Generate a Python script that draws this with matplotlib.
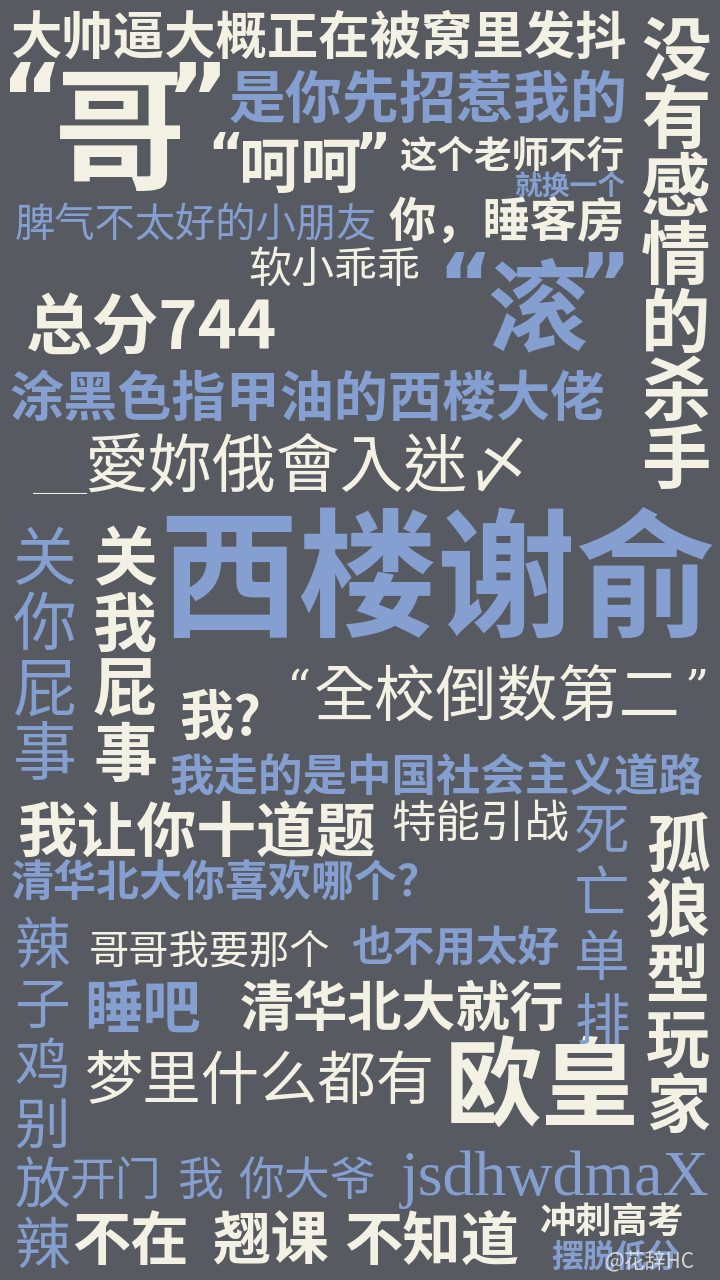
import matplotlib
matplotlib.use("Agg")
import matplotlib.pyplot as plt

plt.rcParams['font.family'] = ['Noto Sans CJK SC', 'DejaVu Sans']

BG = '#575a60'
CREAM = '#f3f1e3'
BLUE = '#849fd0'

# ---- data: phrases ----
horiz_texts = [
    "大帅逼大概正在被窝里发抖",
    "哥",
    "是你先招惹我的",
    "呵呵",
    "这个老师不行",
    "就换一个",
    "脾气不太好的小朋友",
    "你，睡客房",
    "软小乖乖",
    "滚",
    "总分744",
    "涂黑色指甲油的西楼大佬",
    "西楼谢俞",
    "我?",
    "我走的是中国社会主义道路",
    "我让你十道题",
    "特能引战",
    "清华北大你喜欢哪个？",
    "哥哥我要那个",
    "也不用太好",
    "睡吧",
    "清华北大就行",
    "梦里什么都有",
    "欧皇",
    "开门",
    "我",
    "你大爷",
    "冲刺高考",
    "摆脱低分",
    "不在",
    "翘课",
    "不知道",
]
horiz_x = [318, 120, 428, 300, 512, 570, 196, 507, 334, 537, 152, 307, 437, 220, 437, 196,
           480, 226, 210, 455, 142, 402, 260, 542, 115, 200, 307, 612, 615, 130, 270, 432]
horiz_y = [38, 140, 102, 170, 156, 187, 225, 224, 271, 314, 330, 400, 586, 719, 778, 835,
           824, 884, 952, 950, 1012, 1010, 1082, 1090, 1182, 1182, 1182, 1222, 1258, 1243, 1243, 1243]
horiz_size = [37, 95, 41, 44, 27, 20, 29, 34, 31, 72, 48, 39, 100, 39, 32, 43,
              32, 31, 29, 30, 42, 39, 42, 70, 33, 33, 33, 26, 23, 42, 42, 42]
horiz_color = ['c', 'c', 'b', 'c', 'c', 'b', 'b', 'c', 'c', 'b', 'c', 'b', 'b', 'c', 'b', 'c',
               'c', 'b', 'c', 'b', 'b', 'c', 'c', 'c', 'b', 'b', 'b', 'c', 'b', 'c', 'c', 'c']
horiz_weight = ['black', 'black', 'black', 'black', 'bold', 'bold', 'normal', 'black', 'normal', 'black',
                'black', 'black', 'black', 'black', 'black', 'black', 'normal', 'black', 'normal', 'black',
                'black', 'black', 'normal', 'black', 'normal', 'normal', 'normal', 'bold', 'black',
                'black', 'black', 'black']

# vertical phrases
vert_texts = ["没有感情的杀手", "关你屁事", "关我屁事", "死亡单排", "孤狼型玩家", "辣子鸡别放辣"]
vert_x = [676, 45, 125, 602, 678, 42]
vert_y0 = [55, 562, 562, 832, 848, 948]
vert_step = [68, 65, 65, 64, 65, 60]
vert_size = [50, 46, 46, 40, 46, 40]
vert_color = ['c', 'b', 'c', 'b', 'c', 'b']
vert_weight = ['bold', 'normal', 'bold', 'normal', 'black', 'normal']

# light style texts
light_texts = ["愛妳俄會入迷〆", "全校倒数第二"]
light_x = [308, 497]
light_y = [468, 700]
light_size = [46, 44]

latin_text = "jsdhwdmaX"

cmap = {'c': CREAM, 'b': BLUE}

fig = plt.figure(figsize=(7.2, 12.8), dpi=100)
fig.patch.set_facecolor(BG)
ax = fig.add_axes([0, 0, 1, 1])
ax.set_facecolor(BG)
ax.set_xlim(0, 720)
ax.set_ylim(1280, 0)
ax.axis('off')

for t, x, y, s, c, w in zip(horiz_texts, horiz_x, horiz_y, horiz_size, horiz_color, horiz_weight):
    ax.text(x, y, t, fontsize=s, color=cmap[c], fontweight=w, ha='center', va='center')

for t, x, y0, st, s, c, w in zip(vert_texts, vert_x, vert_y0, vert_step, vert_size, vert_color, vert_weight):
    for i, ch in enumerate(t):
        ax.text(x, y0 + i * st, ch, fontsize=s, color=cmap[c], fontweight=w, ha='center', va='center')

# quote marks
def quote(x, y, q, size, color, weight='black', fam='DejaVu Sans'):
    ax.text(x, y, q, fontsize=size, color=color, fontweight=weight, ha='center', va='center',
            family=[fam])

quote(32, 105, "“", 70, CREAM)
quote(197, 105, "”", 70, CREAM)
quote(226, 157, "“", 40, CREAM, 'bold')
quote(373, 157, "”", 40, CREAM, 'bold')
quote(465, 290, "“", 60, BLUE)
quote(604, 290, "”", 60, BLUE)
quote(298, 690, "“", 34, CREAM, 'normal', 'DejaVu Serif')
quote(697, 690, "”", 34, CREAM, 'normal', 'DejaVu Serif')

# light texts
for t, x, y, s in zip(light_texts, light_x, light_y, light_size):
    ax.text(x, y, t, fontsize=s, color=CREAM, fontweight='light', ha='center', va='center',
            family=['Noto Sans CJK TC', 'DejaVu Sans'])
ax.text(60, 488, "﹏﹏﹏", fontsize=13, color=CREAM, fontweight='light', ha='center', va='center')

# latin serif
ax.text(555, 1180, latin_text, fontsize=46, color=BLUE, ha='center', va='center',
        family=['Liberation Serif', 'DejaVu Serif'])

# watermark
ax.text(650, 1262, "@花辞HC", fontsize=15, color='#e8e8ea', alpha=0.85, ha='center', va='center')

fig.savefig("out.png", dpi=100, facecolor=BG)
